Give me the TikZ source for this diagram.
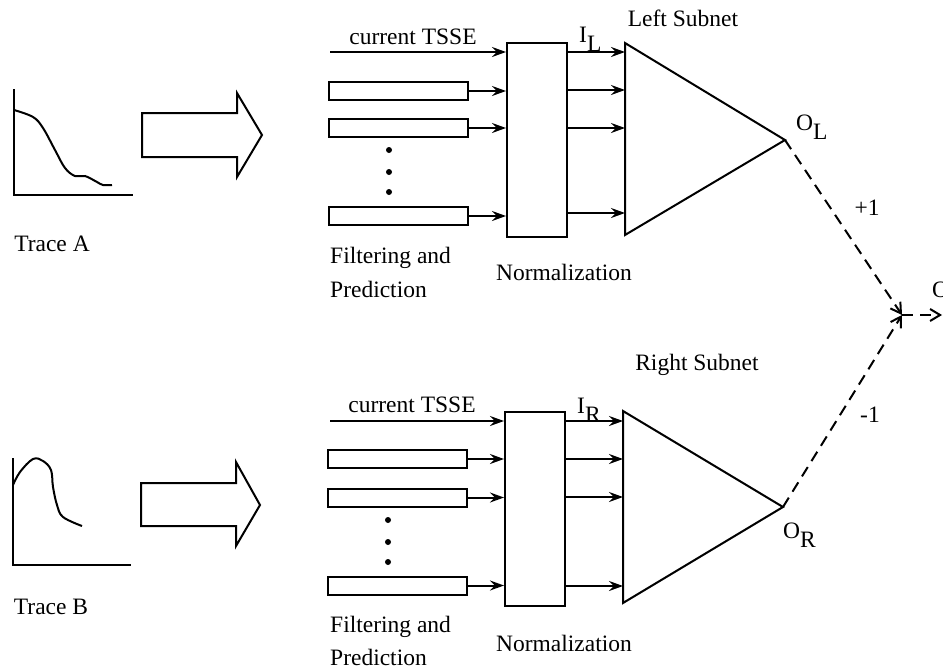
\documentclass[tikz,border=0pt]{standalone}
\usepackage{fontspec}
\setmainfont{Liberation Serif}
\usetikzlibrary{arrows.meta}
\newcommand\subl[1]{\raisebox{-9pt}{#1}}
\begin{document}
\begin{tikzpicture}[x=1pt,y=-1pt,
  every node/.style={font=\fontsize{23.5}{27}\selectfont},
  ln/.style={line width=2pt},
  arr/.style={ln,-{Stealth[length=14pt,width=10pt,inset=5pt]}},
  darr/.style={ln,dash pattern=on 11pt off 7pt,-{Straight Barb[length=10pt,width=12pt]}},
  fbox/.style={draw,ln,minimum width=139pt,minimum height=18pt,inner sep=0pt},
  nbox/.style={draw,ln,minimum width=60pt,minimum height=194pt,inner sep=0pt},
  lbl/.style={inner sep=0pt},
  dotn/.style={circle,fill,inner sep=0pt,minimum size=6pt}]
\useasboundingbox (0,0) rectangle (943,672);

% ---------- Trace A ----------
\draw[ln] (14,89) -- (14,195) -- (133,195);
\draw[ln] plot[smooth,tension=0.6] coordinates {(14,110) (33,117) (43,128) (55,150) (65,168) (75,176) (85,176) (97,182) (103,185) (112,185)};
\node[lbl] (trA) at (52,244) {Trace A};
\draw[ln] (142,113) -- (237,113) -- (237,93) -- (262,135) -- (237,177) -- (237,157) -- (142,157) -- cycle;

% ---------- Trace B ----------
\draw[ln] (13,458) -- (13,565) -- (131,565);
\draw[ln] plot[smooth,tension=0.6] coordinates {(13,485) (20,472) (33,459) (43,461) (51,470) (53,487) (57,505) (63,517) (82,526)};
\node[lbl] (trB) at (51,607) {Trace B};
\draw[ln] (141,483) -- (236,483) -- (236,462) -- (260,505) -- (236,546) -- (236,526) -- (141,526) -- cycle;

% ---------- Upper path ----------
\node[nbox] (nA) at (537,140) {};
\node[fbox] (fA1) at (398.5,91) {};
\node[fbox] (fA2) at (398.5,128) {};
\node[fbox] (fA3) at (398.5,216) {};
\node[dotn] (dA1) at (389,150) {};
\node[dotn] (dA2) at (389,172) {};
\node[dotn] (dA3) at (389,192) {};
\coordinate (cA) at (330,52);
\node[lbl] (tA) at (413,37) {current TSSE};
\draw[arr] (cA) -- (cA -| nA.west);
\draw[arr] (fA1.east) -- (fA1.east -| nA.west);
\draw[arr] (fA2.east) -- (fA2.east -| nA.west);
\draw[arr] (fA3.east) -- (fA3.east -| nA.west);
\coordinate (TA1) at (625,43);
\coordinate (OA) at (785,140);
\coordinate (TA2) at (625,235);
\draw[ln,line join=miter] (TA1) -- (OA) -- (TA2) -- cycle;
\foreach \yy/\nn in {52/a,90/b,128/c,213/d}{
  \coordinate (inA\nn) at (625,\yy);
  \draw[arr] (nA.east |- inA\nn) -- (inA\nn);
}
\node[lbl,anchor=base west] (IL) at (579,42) {I\subl{L}};
\node[lbl] (LS) at (683,18) {Left Subnet};
\node[lbl,anchor=base west] (OLl) at (796,130) {O\subl{L}};
\node[lbl,anchor=west] (fpA1) at (330,258) {Filtering and};
\node[lbl,anchor=west] (fpA2) at (330,289) {Prediction};
\node[lbl] (nlA) at (564,272) {Normalization};

% ---------- Lower path ----------
\node[nbox] (nB) at (535,509) {};
\node[fbox] (fB1) at (397.5,459) {};
\node[fbox] (fB2) at (397.5,497.5) {};
\node[fbox] (fB3) at (397.5,585.5) {};
\node[dotn] (dB1) at (388,520) {};
\node[dotn] (dB2) at (388,542) {};
\node[dotn] (dB3) at (388,562) {};
\coordinate (cB) at (330,421);
\node[lbl] (tB) at (412,405) {current TSSE};
\draw[arr] (cB) -- (cB -| nB.west);
\draw[arr] (fB1.east) -- (fB1.east -| nB.west);
\draw[arr] (fB2.east) -- (fB2.east -| nB.west);
\draw[arr] (fB3.east) -- (fB3.east -| nB.west);
\coordinate (TB1) at (623,411);
\coordinate (OB) at (783,507);
\coordinate (TB2) at (623,603);
\draw[ln,line join=miter] (TB1) -- (OB) -- (TB2) -- cycle;
\foreach \yy/\nn in {421/a,459/b,497/c,586/d}{
  \coordinate (inB\nn) at (623,\yy);
  \draw[arr] (nB.east |- inB\nn) -- (inB\nn);
}
\node[lbl,anchor=base west] (IR) at (577,413) {I\subl{R}};
\node[lbl] (RS) at (697,365) {Right Subnet};
\node[lbl,anchor=base west] (ORl) at (783,538) {O\subl{R}};
\node[lbl,anchor=west] (fpB1) at (330,627) {Filtering and};
\node[lbl,anchor=west] (fpB2) at (330,657) {Prediction};
\node[lbl] (nlB) at (564,643) {Normalization};

% ---------- Combination ----------
\coordinate (J) at (902,315);
\coordinate (Out) at (942,315);
\draw[darr] (OA) -- (J);
\draw[darr] (OB) -- (J);
\draw[darr] (J) -- (Out);
\node[lbl] (p1) at (867,208) {+1};
\node[lbl] (m1) at (870,415) {-1};
\node[lbl,anchor=base west] (Olab) at (932,297) {O};
\end{tikzpicture}
\end{document}
